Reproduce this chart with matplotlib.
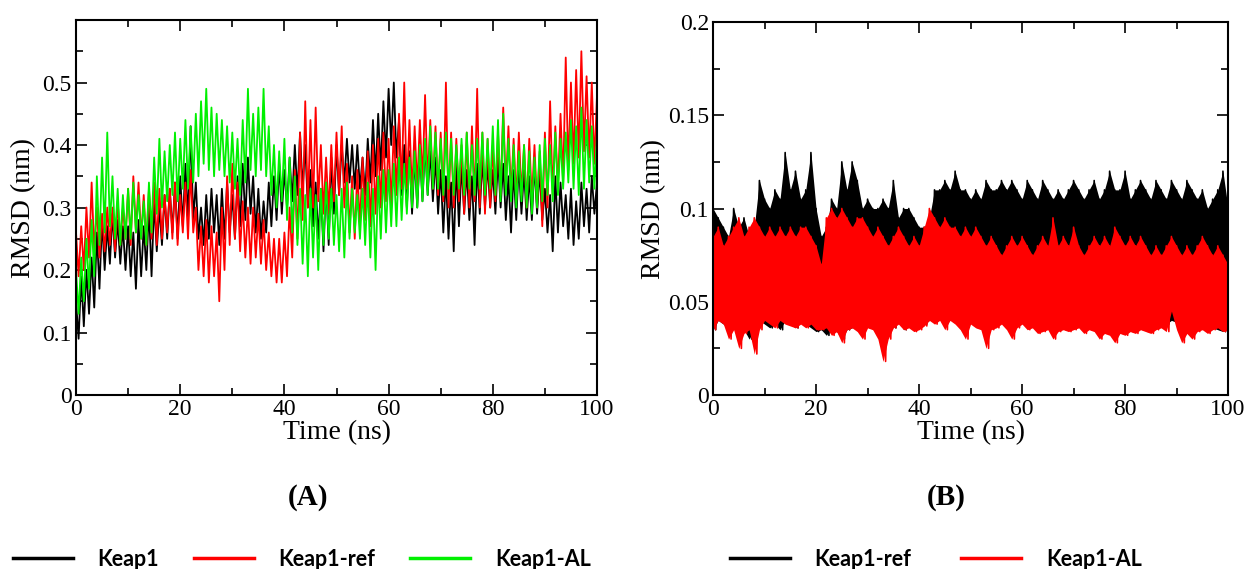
import numpy as np
import matplotlib.pyplot as plt
from matplotlib.lines import Line2D
from matplotlib.ticker import MultipleLocator

# time axis, one sample per ns; each series given as upper / lower extent of the trace
t = np.arange(101)

# panel A
keap1_hi = [0.15, 0.19, 0.2, 0.22, 0.26, 0.28, 0.27, 0.29, 0.28, 0.27, 0.27, 0.26, 0.28, 0.27, 0.3, 0.31, 0.3, 0.32, 0.33, 0.34,
            0.35, 0.37, 0.43, 0.34, 0.3, 0.32, 0.33, 0.32, 0.33, 0.34, 0.32, 0.35, 0.37, 0.38, 0.35, 0.33, 0.31, 0.34, 0.35, 0.37,
            0.36, 0.38, 0.4, 0.42, 0.4, 0.36, 0.34, 0.33, 0.34, 0.38, 0.4, 0.4, 0.41, 0.4, 0.4, 0.38, 0.41, 0.44, 0.45, 0.47,
            0.49, 0.5, 0.44, 0.4, 0.39, 0.38, 0.39, 0.4, 0.39, 0.38, 0.36, 0.35, 0.34, 0.37, 0.37, 0.36, 0.35, 0.37, 0.38, 0.37,
            0.36, 0.38, 0.37, 0.35, 0.36, 0.37, 0.36, 0.35, 0.37, 0.36, 0.33, 0.32, 0.35, 0.34, 0.32, 0.33, 0.31, 0.34, 0.33, 0.35, 0.34]
keap1_lo = [0.09, 0.11, 0.13, 0.14, 0.17, 0.2, 0.21, 0.22, 0.21, 0.2, 0.19, 0.17, 0.19, 0.2, 0.19, 0.23, 0.24, 0.25, 0.26, 0.25,
            0.27, 0.28, 0.28, 0.25, 0.24, 0.25, 0.26, 0.24, 0.25, 0.26, 0.25, 0.27, 0.28, 0.29, 0.26, 0.25, 0.26, 0.27, 0.28, 0.29,
            0.3, 0.31, 0.32, 0.33, 0.3, 0.27, 0.25, 0.23, 0.24, 0.29, 0.32, 0.34, 0.34, 0.33, 0.33, 0.32, 0.34, 0.35, 0.36, 0.38,
            0.4, 0.38, 0.32, 0.3, 0.29, 0.3, 0.31, 0.32, 0.31, 0.29, 0.26, 0.25, 0.23, 0.27, 0.29, 0.28, 0.24, 0.29, 0.3, 0.3,
            0.29, 0.3, 0.28, 0.26, 0.28, 0.29, 0.28, 0.28, 0.29, 0.28, 0.26, 0.23, 0.26, 0.27, 0.25, 0.24, 0.25, 0.27, 0.26, 0.29, 0.3]
ref_hi = [0.26, 0.27, 0.3, 0.34, 0.3, 0.29, 0.3, 0.3, 0.31, 0.3, 0.33, 0.35, 0.34, 0.32, 0.33, 0.34, 0.33, 0.32, 0.33, 0.34,
          0.32, 0.34, 0.36, 0.3, 0.27, 0.28, 0.27, 0.26, 0.3, 0.35, 0.37, 0.34, 0.31, 0.3, 0.3, 0.29, 0.28, 0.26, 0.25, 0.25,
          0.26, 0.3, 0.36, 0.42, 0.47, 0.44, 0.46, 0.4, 0.38, 0.4, 0.42, 0.43, 0.37, 0.35, 0.36, 0.38, 0.39, 0.4, 0.41, 0.42,
          0.41, 0.43, 0.45, 0.5, 0.44, 0.43, 0.44, 0.48, 0.44, 0.43, 0.42, 0.5, 0.42, 0.41, 0.4, 0.42, 0.43, 0.49, 0.42, 0.41,
          0.4, 0.42, 0.46, 0.43, 0.41, 0.42, 0.4, 0.41, 0.4, 0.39, 0.42, 0.47, 0.43, 0.45, 0.54, 0.5, 0.52, 0.55, 0.51, 0.5, 0.48]
ref_lo = [0.19, 0.2, 0.22, 0.23, 0.22, 0.23, 0.24, 0.23, 0.24, 0.25, 0.24, 0.26, 0.25, 0.24, 0.25, 0.24, 0.25, 0.26, 0.25, 0.24,
          0.26, 0.25, 0.26, 0.2, 0.19, 0.18, 0.19, 0.15, 0.2, 0.24, 0.25, 0.23, 0.22, 0.21, 0.22, 0.21, 0.2, 0.19, 0.18, 0.18,
          0.19, 0.22, 0.25, 0.28, 0.3, 0.3, 0.31, 0.29, 0.29, 0.31, 0.32, 0.3, 0.26, 0.25, 0.27, 0.28, 0.27, 0.29, 0.3, 0.31,
          0.3, 0.32, 0.33, 0.33, 0.32, 0.33, 0.34, 0.34, 0.33, 0.32, 0.31, 0.3, 0.3, 0.31, 0.29, 0.3, 0.31, 0.3, 0.29, 0.3,
          0.31, 0.32, 0.33, 0.32, 0.31, 0.32, 0.3, 0.31, 0.3, 0.27, 0.3, 0.32, 0.33, 0.34, 0.36, 0.37, 0.38, 0.39, 0.38, 0.37, 0.36]
al_hi = [0.2, 0.22, 0.25, 0.28, 0.35, 0.38, 0.42, 0.35, 0.33, 0.32, 0.33, 0.34, 0.32, 0.31, 0.34, 0.38, 0.41, 0.39, 0.4, 0.42,
         0.41, 0.44, 0.43, 0.45, 0.47, 0.49, 0.46, 0.45, 0.44, 0.43, 0.42, 0.41, 0.44, 0.49, 0.45, 0.46, 0.49, 0.43, 0.4, 0.39,
         0.41, 0.38, 0.35, 0.33, 0.32, 0.33, 0.32, 0.33, 0.34, 0.33, 0.32, 0.33, 0.34, 0.33, 0.32, 0.33, 0.34, 0.33, 0.35, 0.36,
         0.36, 0.37, 0.38, 0.37, 0.38, 0.39, 0.4, 0.41, 0.43, 0.42, 0.41, 0.42, 0.41, 0.4, 0.41, 0.42, 0.4, 0.41, 0.42, 0.41,
         0.43, 0.44, 0.45, 0.41, 0.4, 0.39, 0.4, 0.39, 0.38, 0.4, 0.41, 0.4, 0.42, 0.41, 0.42, 0.44, 0.43, 0.46, 0.44, 0.43, 0.42]
al_lo = [0.13, 0.15, 0.17, 0.19, 0.24, 0.26, 0.27, 0.25, 0.24, 0.25, 0.25, 0.26, 0.25, 0.24, 0.26, 0.29, 0.3, 0.31, 0.32, 0.31,
         0.33, 0.33, 0.34, 0.35, 0.37, 0.36, 0.35, 0.36, 0.35, 0.34, 0.33, 0.32, 0.34, 0.36, 0.35, 0.36, 0.35, 0.32, 0.3, 0.31,
         0.28, 0.26, 0.24, 0.21, 0.19, 0.22, 0.2, 0.24, 0.25, 0.24, 0.23, 0.22, 0.25, 0.26, 0.25, 0.24, 0.22, 0.2, 0.25, 0.26,
         0.27, 0.27, 0.28, 0.29, 0.3, 0.3, 0.31, 0.32, 0.33, 0.33, 0.32, 0.33, 0.32, 0.33, 0.32, 0.33, 0.32, 0.33, 0.32, 0.33,
         0.32, 0.31, 0.32, 0.31, 0.3, 0.31, 0.3, 0.29, 0.3, 0.31, 0.32, 0.31, 0.32, 0.33, 0.34, 0.33, 0.32, 0.33, 0.34, 0.33, 0.34]

# panel B
b_ref_hi = [0.1, 0.095, 0.09, 0.085, 0.1, 0.09, 0.095, 0.085, 0.09, 0.115, 0.105, 0.1, 0.11, 0.105, 0.13, 0.11, 0.12, 0.105, 0.11, 0.13,
            0.1, 0.085, 0.09, 0.105, 0.1, 0.125, 0.11, 0.125, 0.115, 0.1, 0.105, 0.1, 0.1, 0.105, 0.1, 0.115, 0.095, 0.1, 0.1, 0.095,
            0.09, 0.09, 0.095, 0.11, 0.11, 0.115, 0.11, 0.12, 0.11, 0.11, 0.105, 0.11, 0.105, 0.115, 0.11, 0.11, 0.115, 0.11, 0.115, 0.11,
            0.105, 0.115, 0.11, 0.105, 0.115, 0.11, 0.105, 0.11, 0.105, 0.11, 0.115, 0.11, 0.105, 0.11, 0.115, 0.105, 0.11, 0.12, 0.11, 0.11,
            0.12, 0.105, 0.11, 0.115, 0.11, 0.105, 0.115, 0.11, 0.105, 0.115, 0.11, 0.105, 0.115, 0.11, 0.105, 0.11, 0.1, 0.105, 0.11, 0.12, 0.1]
b_ref_lo = [0.035, 0.04, 0.038, 0.035, 0.038, 0.04, 0.035, 0.03, 0.035, 0.04, 0.038, 0.036, 0.038, 0.035, 0.04, 0.038, 0.036, 0.04, 0.038, 0.036,
            0.034, 0.035, 0.032, 0.036, 0.034, 0.03, 0.035, 0.036, 0.038, 0.037, 0.04, 0.035, 0.036, 0.04, 0.038, 0.036, 0.04, 0.035, 0.038, 0.036,
            0.04, 0.038, 0.04, 0.045, 0.046, 0.045, 0.046, 0.044, 0.045, 0.043, 0.044, 0.043, 0.042, 0.044, 0.043, 0.045, 0.044, 0.043, 0.042, 0.041,
            0.042, 0.04, 0.041, 0.04, 0.042, 0.04, 0.039, 0.04, 0.041, 0.04, 0.038, 0.04, 0.039, 0.04, 0.041, 0.04, 0.038, 0.04, 0.039, 0.04,
            0.041, 0.04, 0.039, 0.04, 0.038, 0.04, 0.039, 0.04, 0.038, 0.04, 0.039, 0.038, 0.04, 0.039, 0.038, 0.037, 0.038, 0.036, 0.035, 0.034, 0.036]
b_al_hi = [0.085, 0.09, 0.08, 0.085, 0.09, 0.095, 0.085, 0.09, 0.095, 0.09, 0.085, 0.09, 0.085, 0.09, 0.085, 0.09, 0.085, 0.09, 0.09, 0.085,
           0.08, 0.07, 0.095, 0.1, 0.095, 0.1, 0.095, 0.09, 0.095, 0.095, 0.09, 0.085, 0.09, 0.085, 0.08, 0.085, 0.09, 0.085, 0.08, 0.085,
           0.08, 0.09, 0.1, 0.095, 0.09, 0.095, 0.09, 0.09, 0.085, 0.09, 0.085, 0.09, 0.085, 0.08, 0.085, 0.08, 0.075, 0.08, 0.085, 0.08,
           0.085, 0.08, 0.075, 0.08, 0.085, 0.08, 0.095, 0.08, 0.085, 0.08, 0.09, 0.08, 0.075, 0.08, 0.085, 0.08, 0.085, 0.08, 0.09, 0.085,
           0.08, 0.085, 0.08, 0.085, 0.08, 0.075, 0.08, 0.075, 0.08, 0.085, 0.08, 0.075, 0.08, 0.075, 0.08, 0.085, 0.08, 0.075, 0.08, 0.075, 0.07]
b_al_lo = [0.035, 0.04, 0.038, 0.03, 0.035, 0.025, 0.033, 0.035, 0.022, 0.035, 0.04, 0.038, 0.036, 0.04, 0.038, 0.037, 0.036, 0.038, 0.036, 0.038,
           0.035, 0.035, 0.036, 0.032, 0.034, 0.028, 0.035, 0.036, 0.034, 0.03, 0.036, 0.035, 0.03, 0.018, 0.03, 0.036, 0.038, 0.035, 0.036, 0.034,
           0.035, 0.037, 0.04, 0.038, 0.04, 0.035, 0.04, 0.038, 0.035, 0.03, 0.038, 0.036, 0.035, 0.025, 0.035, 0.036, 0.038, 0.035, 0.03, 0.036,
           0.038, 0.035, 0.036, 0.033, 0.034, 0.035, 0.03, 0.034, 0.035, 0.034, 0.035, 0.036, 0.033, 0.035, 0.034, 0.03, 0.033, 0.032, 0.028, 0.033,
           0.032, 0.034, 0.033, 0.035, 0.034, 0.033, 0.035, 0.036, 0.034, 0.045, 0.035, 0.028, 0.033, 0.03, 0.034, 0.035, 0.033, 0.035, 0.036, 0.034, 0.035]

labels_a = ['Keap1', 'Keap1-ref', 'Keap1-AL']
labels_b = ['Keap1-ref', 'Keap1-AL']
colors_a = ['black', '#ff0000', '#00f000']
colors_b = ['black', '#ff0000']
yticks_a = [0, 0.1, 0.2, 0.3, 0.4, 0.5]
yticks_b = [0, 0.05, 0.1, 0.15, 0.2]


def trace(hi, lo):
    # alternate upper and lower values to get the jagged trace
    x = np.empty(2 * len(t))
    y = np.empty(2 * len(t))
    x[0::2] = t
    x[1::2] = t + 0.5
    y[0::2] = hi
    y[1::2] = lo
    return x, y


plt.rcParams['font.family'] = 'Liberation Serif'
fig = plt.figure(figsize=(12.44, 5.69), dpi=100)
axA = fig.add_axes([0.0611, 0.3058, 0.4188, 0.659])
axB = fig.add_axes([0.5732, 0.3058, 0.414, 0.6555])

for (hi, lo), c in zip([(keap1_hi, keap1_lo), (ref_hi, ref_lo), (al_hi, al_lo)], colors_a):
    axA.plot(*trace(hi, lo), color=c, lw=1.3)
# panel B traces are so dense they read as filled bands; later series drawn on top
for i, ((hi, lo), c) in enumerate(zip([(b_ref_hi, b_ref_lo), (b_al_hi, b_al_lo)], colors_b)):
    axB.fill_between(t, lo, hi, color=c, lw=0, zorder=1 + i)
    axB.plot(*trace(hi, lo), color=c, lw=1.2, zorder=1.5 + i)

for ax, ymax, yt, ylab_x in [(axA, 0.6, yticks_a, -0.077), (axB, 0.2, yticks_b, -0.091)]:
    ax.set_xlim(0, 100)
    ax.set_ylim(0, ymax)
    ax.xaxis.set_major_locator(MultipleLocator(20))
    ax.xaxis.set_minor_locator(MultipleLocator(10))
    ax.set_yticks(yt)
    ax.set_yticklabels([f'{v:g}' for v in yt])
    ax.yaxis.set_minor_locator(MultipleLocator(yt[1] / 2))
    ax.tick_params(which='both', direction='in', top=True, right=True, labelsize=17, width=1.2, pad=3)
    ax.tick_params(which='major', length=8)
    ax.tick_params(which='minor', length=5)
    for s in ax.spines.values():
        s.set_linewidth(1.5)
        s.set_zorder(5)
    ax.set_xlabel('Time (ns)', fontsize=20)
    ax.set_ylabel('RMSD (nm)', fontsize=20)
    ax.xaxis.set_label_coords(0.5, -0.068)
    ax.yaxis.set_label_coords(ylab_x, 0.5)

fig.text(0.2476, 0.125, '(A)', fontsize=21, fontweight='bold', ha='center', va='center')
fig.text(0.7605, 0.125, '(B)', fontsize=21, fontweight='bold', ha='center', va='center')

leg_kw = dict(frameon=False, handlelength=2.8, handletextpad=1.15,
              prop={'family': 'Lato', 'weight': 'bold', 'size': 15.5})
hA = [Line2D([], [], color=c, lw=2.5) for c in colors_a]
hB = [Line2D([], [], color=c, lw=2.5) for c in colors_b]
fig.legend(hA, labels_a, ncol=3, loc='center left', bbox_to_anchor=(-0.0055, 0.017),
           columnspacing=1.6, **leg_kw)
fig.legend(hB, labels_b, ncol=2, loc='center left', bbox_to_anchor=(0.571, 0.017),
           columnspacing=2.3, **leg_kw)

fig.savefig('out.png', dpi=100)
